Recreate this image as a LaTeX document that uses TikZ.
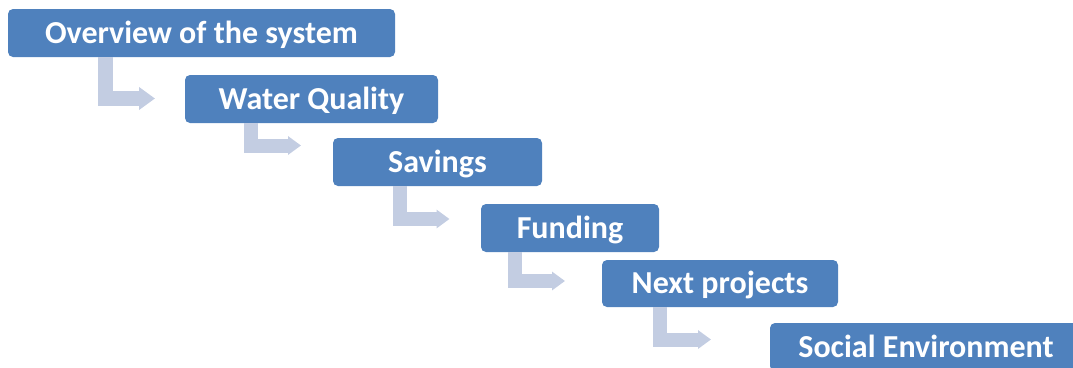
\documentclass[tikz,border=0pt]{standalone}
\usepackage{fontspec}
\setmainfont{Carlito}
\usetikzlibrary{arrows.meta}
\definecolor{boxblue}{HTML}{4F81BD}
\definecolor{flowgray}{HTML}{C3CDE2}
\tikzset{
  stepbox/.style={fill=boxblue, rounded corners=5pt, inner sep=0pt,
    text=white, font=\fontsize{32}{36}\selectfont\bfseries,
    text height=20.6pt, text depth=0pt},
  bigflow/.style={draw=flowgray, line width=15pt, line join=miter, line cap=butt,
    -{Triangle[width=22pt,length=16pt]}},
  flow/.style={draw=flowgray, line width=14pt, line join=miter, line cap=butt,
    -{Triangle[width=18pt,length=13pt]}}
}
\begin{document}
\begin{tikzpicture}[x=1pt,y=-1pt]
\useasboundingbox (0,0) rectangle (1073,367);
\clip (0,0) rectangle (1073,367);

% process steps
\node[stepbox, minimum width=387pt, minimum height=48pt] (b1) at (201.5,33) {Overview of the system};
\node[stepbox, minimum width=253pt, minimum height=48pt] (b2) at (311.5,99) {Water Quality};
\node[stepbox, minimum width=209pt, minimum height=48pt] (b3) at (437.5,162) {Savings};
\node[stepbox, minimum width=178pt, minimum height=48pt] (b4) at (570,228) {Funding};
\node[stepbox, minimum width=236pt, minimum height=47pt] (b5) at (720,283.5) {Next projects};
\node[stepbox, minimum width=312pt, minimum height=48pt] (b6) at (926,347) {Social Environment};

% shaft positions and arrow tips of the bent connectors
\coordinate (s1) at (105,0);   \coordinate (t1) at (155,98.5);
\coordinate (s2) at (250.5,0); \coordinate (t2) at (301,145.5);
\coordinate (s3) at (399.5,0); \coordinate (t3) at (449.5,219);
\coordinate (s4) at (514.5,0); \coordinate (t4) at (565,281);
\coordinate (s5) at (660,0);   \coordinate (t5) at (711,339.5);

\draw[bigflow] (b1.south -| s1) |- (t1);
\draw[flow] (b2.south -| s2) |- (t2);
\draw[flow] (b3.south -| s3) |- (t3);
\draw[flow] (b4.south -| s4) |- (t4);
\draw[flow] (b5.south -| s5) |- (t5);
\end{tikzpicture}
\end{document}
